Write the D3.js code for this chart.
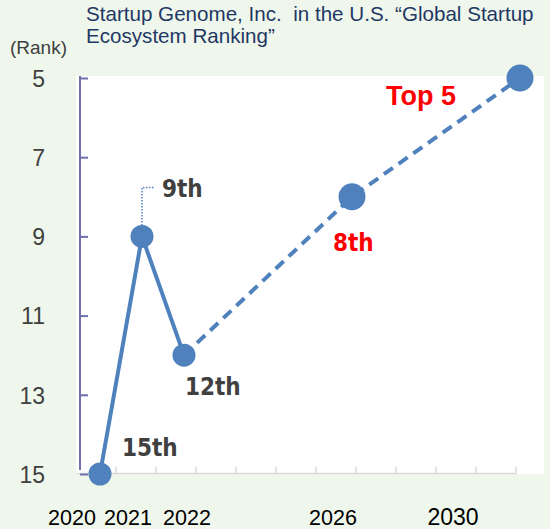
<!DOCTYPE html>
<html>
<head>
<meta charset="utf-8">
<script src="https://cdn.jsdelivr.net/npm/d3@7"></script>
<style>
  html, body { margin: 0; padding: 0; background: #eff7ec; }
  svg { display: block; font-family: "Liberation Sans", Arial, sans-serif; }
</style>
</head>
<body>
<svg id="chart" width="550" height="529"></svg>
<script>
(function() {
    'use strict';

    // data
    var years = [2020, 2021, 2022, 2026, 2030];
    var ranks = [15, 9, 12, 8, 5];
    var pointLabels = ['15th', '9th', '12th', '8th', 'Top 5'];
    var actualUntil = 2022; // solid line up to here, dashed after
    var rankTicks = [5, 7, 9, 11, 13, 15];
    var yearTicks = [2020, 2021, 2022, 2026, 2030];
    var allYears = d3.range(2020, 2031);

    var svg = d3.select('#chart');

    var x = d3.scaleLinear().domain([2020, 2030]).range([100, 520]);
    var y = d3.scaleLinear().domain([5, 15]).range([78, 474]);
    // category axis underneath (one band per year)
    var band = d3.scaleBand().domain(allYears).range([76, 516]);

    // white plot area
    svg.append('rect')
        .attr('x', 76).attr('y', 76)
        .attr('width', 468).attr('height', 398)
        .attr('fill', '#fff');

    // title
    var title = svg.append('text')
        .attr('x', 86).attr('y', 21)
        .attr('fill', '#1f3864')
        .attr('xml:space', 'preserve')
        .style('white-space', 'pre')
        .style('font-size', '20.6px');
    title.append('tspan').attr('x', 86).attr('dy', 0).text('Startup Genome, Inc.  in the U.S. \u201cGlobal Startup');
    title.append('tspan').attr('x', 86).attr('dy', 22).text('Ecosystem Ranking\u201d');

    svg.append('text')
        .attr('x', 10).attr('y', 54)
        .attr('fill', '#404040')
        .style('font-size', '19px')
        .text('(Rank)');

    // bottom category axis (gray)
    var xAxis = svg.append('g')
        .attr('transform', 'translate(0,473)')
        .call(d3.axisBottom(band).tickValues([]).tickSize(0));
    xAxis.select('.domain').attr('stroke', '#d9d9d9').attr('stroke-width', 1.5);
    xAxis.selectAll('line.cat')
        .data(allYears)
        .enter().append('line')
        .attr('class', 'cat')
        .attr('x1', function(d) { return band(d) + band.step(); })
        .attr('x2', function(d) { return band(d) + band.step(); })
        .attr('y1', 0).attr('y2', -6)
        .attr('stroke', '#d9d9d9').attr('stroke-width', 1.5);

    // year labels (placed as in the reference, nudged from the point positions)
    var nudge = { 2020: -28, 2021: -14, 2022: 3, 2026: -19, 2030: -67 };
    svg.append('g').selectAll('text')
        .data(yearTicks)
        .enter().append('text')
        .attr('x', function(d) { return x(d) + nudge[d]; })
        .attr('y', 525)
        .attr('text-anchor', 'middle')
        .attr('fill', '#000')
        .style('font-size', function(d) { return d === 2030 ? '23px' : '21.5px'; })
        .text(function(d) { return d; });

    // left rank axis
    var yAxis = svg.append('g')
        .attr('transform', 'translate(80,0)')
        .call(d3.axisLeft(y).tickValues(rankTicks).tickSize(-8).tickSizeOuter(0).tickPadding(35));
    yAxis.select('.domain').attr('stroke', '#6f6fab').attr('stroke-width', 2)
        .attr('d', 'M0,' + (y(5) - 2) + 'V' + (y(15) - 4));
    yAxis.selectAll('.tick line').attr('stroke', '#6f6fab').attr('stroke-width', 2)
        .attr('x1', 0).attr('x2', 8);
    yAxis.selectAll('.tick text')
        .attr('fill', '#404040')
        .style('font-size', '23px')
        .style('font-family', '"Liberation Sans", Arial, sans-serif')
        .attr('dy', '0.36em');

    var pts = years.map(function(d, i) { return { year: d, rank: ranks[i], label: pointLabels[i] }; });
    var actual = pts.filter(function(p) { return p.year <= actualUntil; });
    var future = pts.filter(function(p) { return p.year >= actualUntil; });

    var line = d3.line()
        .x(function(d) { return x(d.year); })
        .y(function(d) { return y(d.rank); });

    svg.append('path')
        .datum(actual)
        .attr('d', line)
        .attr('fill', 'none')
        .attr('stroke', '#4f81bd')
        .attr('stroke-width', 4);

    svg.append('path')
        .datum(future)
        .attr('d', line)
        .attr('fill', 'none')
        .attr('stroke', '#4f81bd')
        .attr('stroke-width', 4)
        .attr('stroke-dasharray', '11,7');

    // dotted leader for the 9th label
    var p9 = pts[1];
    svg.append('path')
        .attr('d', 'M' + x(p9.year) + ',' + (y(p9.rank) - 11) + 'V' + (y(p9.rank) - 49) + 'H' + (x(p9.year) + 13))
        .attr('fill', 'none')
        .attr('stroke', '#4f81bd')
        .attr('stroke-width', 1.5)
        .attr('stroke-dasharray', '1.5,1.5');

    svg.append('g').selectAll('circle')
        .data(pts)
        .enter().append('circle')
        .attr('cx', function(d) { return x(d.year); })
        .attr('cy', function(d) { return y(d.rank); })
        .attr('r', function(d) { return d.year > actualUntil ? 13.5 : 11.5; })
        .attr('fill', '#4f81bd');

    // point labels
    var labelPos = {
        2020: { dx: 22, dy: -18, color: '#404040' },
        2021: { dx: 20, dy: -39, color: '#404040' },
        2022: { dx: 1, dy: 40, color: '#404040' },
        2026: { dx: -19, dy: 54, color: '#ff0000' },
        2030: { dx: -134, dy: 27, color: '#ff0000' }
    };
    svg.append('g').selectAll('text')
        .data(pts)
        .enter().append('text')
        .attr('x', function(d) { return x(d.year) + labelPos[d.year].dx; })
        .attr('y', function(d) { return y(d.rank) + labelPos[d.year].dy; })
        .attr('fill', function(d) { return labelPos[d.year].color; })
        .style('font-family', function(d) { return d.year === 2030 ? '"Liberation Sans", Arial, sans-serif' : '"DejaVu Sans", sans-serif'; })
        .style('font-stretch', function(d) { return d.year === 2030 ? 'normal' : 'condensed'; })
        .style('font-weight', 'bold')
        .style('font-size', function(d) { return d.year === 2030 ? '27px' : '24px'; })
        .text(function(d) { return d.label; });
})();
</script>
</body>
</html>
